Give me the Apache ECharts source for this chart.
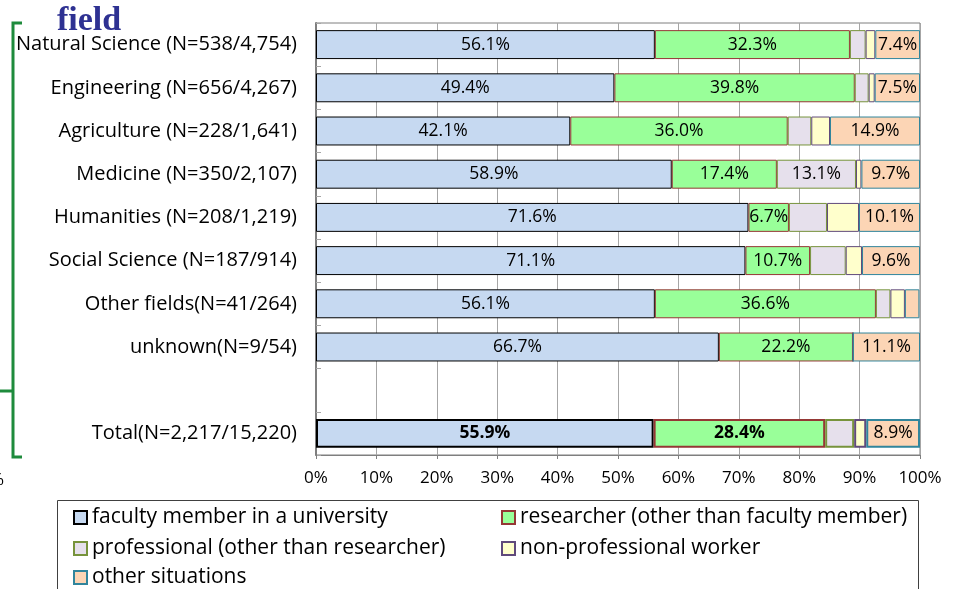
<!DOCTYPE html>
<html>
<head>
<meta charset="utf-8">
<script src="https://cdn.jsdelivr.net/npm/echarts@6/dist/echarts.min.js"></script>
<style>
  html, body { margin: 0; padding: 0; background: #fff; }
  #main { width: 960px; height: 589px; }
</style>
</head>
<body>
<div id="main"></div>
<script>
// rows, top to bottom ('' is the empty spacer row before Total)
var fields = [
  'Natural Science (N=538/4,754)',
  'Engineering (N=656/4,267)',
  'Agriculture (N=228/1,641)',
  'Medicine (N=350/2,107)',
  'Humanities (N=208/1,219)',
  'Social Science (N=187/914)',
  'Other fields(N=41/264)',
  'unknown(N=9/54)',
  '',
  'Total(N=2,217/15,220)'
];

// shares in % (unlabelled pieces are estimates)
var faculty      = [56.1, 49.4, 42.1, 58.9, 71.6, 71.1, 56.1, 66.7, null, 55.9];
var researcher   = [32.3, 39.8, 36.0, 17.4, 6.7, 10.7, 36.6, 22.2, null, 28.4];
var professional = [2.6, 2.3, 3.9, 13.1, 6.3, 5.9, 2.4, 0, null, 4.8];
var nonProf      = [1.6, 1.0, 3.1, 0.9, 5.3, 2.7, 2.4, 0, null, 2.0];
var otherSit     = [7.4, 7.5, 14.9, 9.7, 10.1, 9.6, 2.4, 11.1, null, 8.9];

var xTicks = [0, 10, 20, 30, 40, 50, 60, 70, 80, 90, 100];

var FONT = '"Open Sans", sans-serif';
var TOTAL_ROW = fields.length - 1;

function makeSeries(name, values, fill, border, minLabel) {
  return {
    name: name,
    type: 'bar',
    stack: 'all',
    barCategoryGap: '33%',
    itemStyle: { color: fill, borderColor: border, borderWidth: 1 },
    emphasis: { disabled: true },
    label: {
      show: true,
      position: 'inside',
      color: '#000',
      fontFamily: FONT,
      fontSize: 17.5,
      formatter: function (p) {
        if (p.value == null || p.value < minLabel) return '';
        return p.value.toFixed(1) + '%';
      }
    },
    data: values.map(function (v, i) {
      if (i !== TOTAL_ROW) return v;
      // Total row: thicker outline, bold text for the big pieces
      return {
        value: v,
        itemStyle: { borderWidth: 2 },
        label: { fontWeight: minLabel === 0 ? 'bold' : 'normal' }
      };
    })
  };
}

// one legend entry per slot, laid out like the 2-column box of the original
function legendItem(name, left, top) {
  return {
    left: left, top: top,
    itemWidth: 13, itemHeight: 13,
    icon: 'rect',
    textStyle: { fontFamily: FONT, fontSize: 21, color: '#000' },
    data: [name]
  };
}

var chart = echarts.init(document.getElementById('main'));

chart.setOption({
  animation: false,
  grid: {
    left: 316, top: 23, width: 604, height: 432,
    show: true, borderColor: '#7f7f7f', borderWidth: 1, backgroundColor: 'transparent'
  },
  legend: [
    legendItem('faculty member in a university', 68, 502),
    legendItem('researcher (other than faculty member)', 496, 502),
    legendItem('professional (other than researcher)', 68, 533),
    legendItem('non-professional worker', 496, 533),
    legendItem('other situations', 68, 562)
  ],
  xAxis: {
    type: 'value',
    min: xTicks[0], max: xTicks[xTicks.length - 1], interval: 10,
    axisLine: { show: true, lineStyle: { color: '#7f7f7f' } },
    axisTick: { show: true, length: 4, lineStyle: { color: '#7f7f7f' } },
    axisLabel: { formatter: '{value}%', color: '#000', fontFamily: FONT, fontSize: 17, margin: 15 },
    splitLine: { show: true, lineStyle: { color: '#a6a6a6', width: 1 } }
  },
  yAxis: {
    type: 'category',
    inverse: true,
    data: fields,
    axisLine: { show: true, lineStyle: { color: '#7f7f7f', width: 2 } },
    axisTick: { show: true, inside: true, length: 5, lineStyle: { color: '#a6a6a6' } },
    axisLabel: { color: '#000', fontFamily: FONT, fontSize: 20, margin: 19 }
  },
  series: [
    makeSeries('faculty member in a university', faculty, '#c6d9f1', '#000000', 0),
    makeSeries('researcher (other than faculty member)', researcher, '#99ff99', '#953735', 0),
    makeSeries('professional (other than researcher)', professional, '#e6e0ec', '#77933c', 10),
    makeSeries('non-professional worker', nonProf, '#ffffcc', '#604a7b', 1000),
    makeSeries('other situations', otherSit, '#fcd5b5', '#31859c', 5)
  ],
  graphic: [
    {
      type: 'text', left: 57, top: 4,
      style: { text: 'field', font: 'bold 34px "Liberation Serif", serif', fill: '#2e3192' }
    },
    {
      type: 'polyline',
      shape: { points: [[22, 23], [13, 23], [13, 391], [0, 391], [13, 391], [13, 457], [22, 457]] },
      style: { stroke: '#1e8b3c', lineWidth: 3, fill: null }
    },
    {
      type: 'text', left: -10, top: 472,
      style: { text: '%', font: '17px "Open Sans", sans-serif', fill: '#000' }
    },
    {
      type: 'rect',
      shape: { x: 57.5, y: 500.5, width: 861, height: 110 },
      style: { stroke: '#404040', lineWidth: 1, fill: null },
      z: -1
    }
  ]
});
</script>
</body>
</html>
